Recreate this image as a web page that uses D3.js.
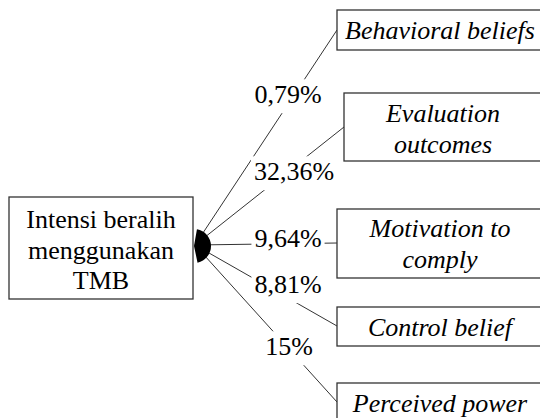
<!DOCTYPE html>
<html><head><meta charset="utf-8">
<script src="https://cdn.jsdelivr.net/npm/d3@7"></script>
<style>body{margin:0;background:#fff}svg{display:block}svg text{font-family:"Liberation Serif",serif}</style>
</head><body>
<script>
// ---- data ----
const sourceLines = ["Intensi beralih", "menggunakan", "TMB"];
const categories = ["Behavioral beliefs", "Evaluation outcomes", "Motivation to comply", "Control belief", "Perceived power"];
const categoryLines = [["Behavioral beliefs"], ["Evaluation", "outcomes"], ["Motivation to", "comply"], ["Control belief"], ["Perceived power"]];
const values = [0.79, 32.36, 9.64, 8.81, 15];

// ---- layout ----
const W = 540, H = 418;
const FS = 26, LH = 30.5;
const srcBox = {x: 9, y: 197, w: 184, h: 102};
const origin = {x: 195, y: 245};
const boxes = [
  {x: 337, y: 10, h: 40, tx: 440},
  {x: 344, y: 93, h: 68, tx: 443},
  {x: 337, y: 209, h: 69, tx: 440},
  {x: 337, y: 307, h: 39, tx: 440},
  {x: 337, y: 383, h: 60, tx: 440}
];
const anchors = [[337, 30], [344, 127], [337, 243], [337, 326], [337, 402]];
const textBase = [[39], [122, 152.5], [237, 268], [336], [412]];
const labelPos = [[288, 103], [294, 180], [288, 247], [288, 293], [289, 355]];

const locale = d3.formatLocale({decimal: ",", thousands: ".", grouping: [3], currency: ["", ""]});
const fmt = locale.format(".2~f");
const adv = c => c === "," ? 0.25 : c === "%" ? 0.833 : 0.5;
const textW = s => d3.sum(Array.from(s), adv) * FS;

const svg = d3.select("body").append("svg").attr("width", W).attr("height", H)
  .attr("font-family", "Liberation Serif").attr("font-size", FS);

svg.append("rect").attr("width", W).attr("height", H).attr("fill", "#fff");

// connector lines
svg.append("g").selectAll("line").data(categories).join("line")
  .attr("x1", origin.x).attr("y1", origin.y)
  .attr("x2", (d, i) => anchors[i][0]).attr("y2", (d, i) => anchors[i][1])
  .attr("stroke", "#333").attr("stroke-width", 1);

// fan (converging arrowheads)
const arc = d3.arc().innerRadius(0).outerRadius(17)
  .startAngle(10 * Math.PI / 180).endAngle(168 * Math.PI / 180);
svg.append("path").attr("d", arc()).attr("transform", "translate(194,246)").attr("fill", "#000");

// percentage labels with white knockout
const labels = values.map(v => fmt(v) + "%");
const lab = svg.append("g").selectAll("g").data(labels).join("g");
lab.append("rect")
  .attr("x", (s, i) => labelPos[i][0] - textW(s) / 2 - 3)
  .attr("y", (s, i) => labelPos[i][1] - 0.72 * FS - 5)
  .attr("width", s => textW(s) + 6)
  .attr("height", 0.92 * FS + 10)
  .attr("fill", "#fff");
lab.append("text").attr("x", (s, i) => labelPos[i][0]).attr("y", (s, i) => labelPos[i][1])
  .attr("text-anchor", "middle").text(s => s);

// source box
svg.append("rect").attr("x", srcBox.x).attr("y", srcBox.y).attr("width", srcBox.w).attr("height", srcBox.h)
  .attr("fill", "#fff").attr("stroke", "#333").attr("stroke-width", 1.3);
svg.append("g").selectAll("text").data(sourceLines).join("text")
  .attr("x", srcBox.x + srcBox.w / 2).attr("y", (d, i) => 228 + i * LH)
  .attr("text-anchor", "middle").text(d => d);

// target boxes
const tg = svg.append("g").selectAll("g").data(categories).join("g");
tg.append("rect").attr("x", (d, i) => boxes[i].x).attr("y", (d, i) => boxes[i].y)
  .attr("width", (d, i) => W + 10 - boxes[i].x).attr("height", (d, i) => boxes[i].h)
  .attr("fill", "#fff").attr("stroke", "#333").attr("stroke-width", 1.3);
tg.each(function(d, i) {
  d3.select(this).selectAll("text").data(categoryLines[i]).join("text")
    .attr("x", boxes[i].tx).attr("y", (s, j) => textBase[i][j])
    .attr("text-anchor", "middle").attr("font-style", "italic").text(s => s);
});
</script>
</body></html>
